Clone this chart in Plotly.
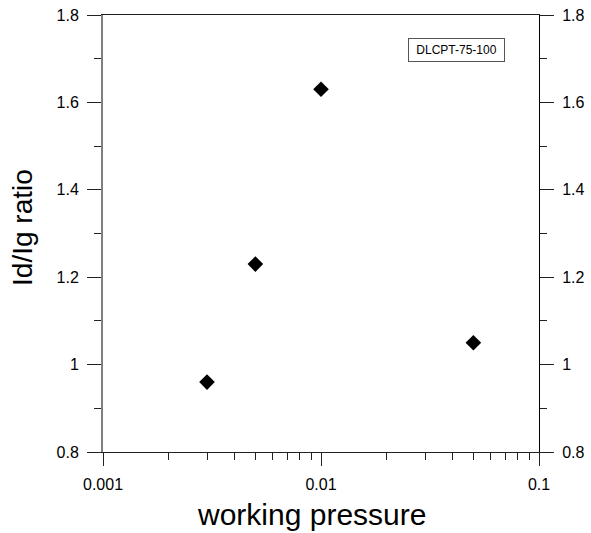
import plotly.graph_objects as go

pressure = [0.003, 0.005, 0.01, 0.05]
ratio = [0.96, 1.23, 1.63, 1.05]

x_major = [0.001, 0.01, 0.1]
x_major_text = ["0.001", "0.01", "0.1"]
x_minor = [0.002, 0.003, 0.004, 0.005, 0.006, 0.007, 0.008, 0.009,
           0.02, 0.03, 0.04, 0.05, 0.06, 0.07, 0.08, 0.09]
y_major = [0.8, 1.0, 1.2, 1.4, 1.6, 1.8]
y_major_text = ["0.8", "1", "1.2", "1.4", "1.6", "1.8"]
y_minor = [0.9, 1.1, 1.3, 1.5, 1.7]
legend_label = "DLCPT-75-100"
x_title = "working pressure"
y_title = "Id/Ig ratio"

FONT = "Liberation Sans, Arial, sans-serif"

fig = go.Figure()
fig.add_trace(go.Scatter(
    x=pressure, y=ratio, mode="markers",
    marker=dict(symbol="diamond", size=12, color="black"),
    showlegend=False, cliponaxis=False,
))
fig.add_trace(go.Scatter(
    x=pressure, y=ratio, mode="markers", yaxis="y2",
    marker=dict(size=1, opacity=0), showlegend=False, hoverinfo="skip",
))

yaxis_common = dict(
    range=[0.8, 1.8], tickvals=y_major, ticktext=y_major_text,
    ticks="outside", ticklen=14, tickwidth=1, tickcolor="#222",
    minor=dict(ticks="outside", ticklen=7, tickvals=y_minor, tickcolor="#222"),
    showgrid=False, zeroline=False, automargin=False,
    tickfont=dict(family=FONT, size=16, color="black"),
    ticklabelstandoff=5,
)

fig.update_layout(
    width=591, height=533, autosize=False,
    margin=dict(l=103, r=52, t=15, b=81, autoexpand=False),
    paper_bgcolor="white", plot_bgcolor="white",
    font=dict(family=FONT, color="black"),
    xaxis=dict(
        type="log", range=[-3, -1],
        tickvals=x_major, ticktext=x_major_text,
        ticks="outside", ticklen=13, tickwidth=1, tickcolor="#222",
        minor=dict(ticks="outside", ticklen=7, tickvals=x_minor, tickcolor="#222"),
        showline=True, linecolor="#222", linewidth=1, mirror=True,
        showgrid=False, zeroline=False, automargin=False,
        tickfont=dict(family=FONT, size=16, color="black"),
        ticklabelstandoff=5,
    ),
    yaxis=dict(
        **yaxis_common,
        showline=True, linecolor="#808080", linewidth=2,
    ),
    yaxis2=dict(
        **yaxis_common,
        overlaying="y", side="right", matches="y",
        showline=True, linecolor="black", linewidth=1,
    ),
    annotations=[
        dict(
            text=legend_label, xref="paper", yref="paper",
            x=0.811, y=0.919, xanchor="center", yanchor="middle",
            showarrow=False, font=dict(family=FONT, size=12, color="black"),
            bordercolor="#555", borderwidth=1, borderpad=4, width=87,
            bgcolor="white",
        ),
        dict(
            text=x_title, xref="paper", yref="paper",
            x=0.479, y=-0.144, xanchor="center", yanchor="middle",
            showarrow=False, font=dict(family=FONT, size=30, color="black"),
        ),
        dict(
            text=y_title, xref="paper", yref="paper", textangle=-90,
            x=-0.1835, y=0.515, xanchor="center", yanchor="middle",
            showarrow=False, font=dict(family=FONT, size=28, color="black"),
        ),
    ],
)

fig.write_html(
    "out.html",
    config={"displayModeBar": False},
    post_script="document.body.style.margin='0';document.body.style.overflow='hidden';",
)
